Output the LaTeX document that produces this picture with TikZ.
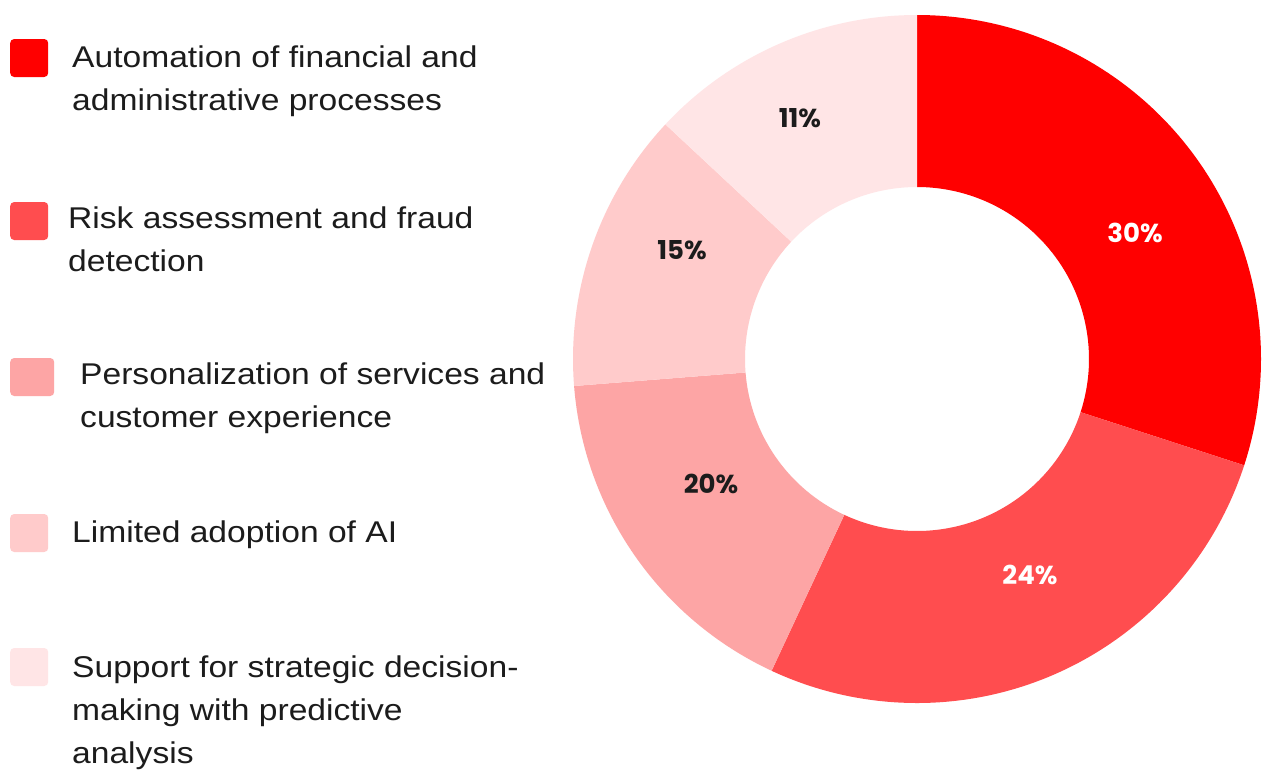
\documentclass[tikz,border=0pt]{standalone}
\usepackage{fontspec}
\setmainfont{Liberation Sans}[FakeStretch=1.12]
\newfontfamily\pctfont{Poppins}
\definecolor{c1}{HTML}{FF0000}
\definecolor{c2}{HTML}{FF4D4F}
\definecolor{c3}{HTML}{FDA5A5}
\definecolor{c4}{HTML}{FFCBCB}
\definecolor{c5}{HTML}{FFE5E6}
\definecolor{txt}{HTML}{1C1C1C}
\begin{document}
\begin{tikzpicture}[x=1pt,y=-1pt,
  sq/.style={rounded corners=4pt, minimum width=38pt, minimum height=38pt, inner sep=0pt, anchor=west},
  lbl/.style={anchor=base west, align=left, inner sep=0pt, font=\fontsize{30}{43}\selectfont, text=txt},
  pct/.style={font=\pctfont\bfseries\fontsize{26}{26}\selectfont, inner sep=0pt}]
\useasboundingbox (0,0) rectangle (1264,769);
\fill[white] (0,0) rectangle (1264,769);
% donut
\begin{scope}[shift={(917,359)}]
\fill[c1] (-90:344) arc[start angle=-90,end angle=18,radius=344] -- (18:172) arc[start angle=18,end angle=-90,radius=172] -- cycle;
\fill[c2] (18:344) arc[start angle=18,end angle=115,radius=344] -- (115:172) arc[start angle=115,end angle=18,radius=172] -- cycle;
\fill[c3] (115:344) arc[start angle=115,end angle=175.5,radius=344] -- (175.5:172) arc[start angle=175.5,end angle=115,radius=172] -- cycle;
\fill[c4] (175.5:344) arc[start angle=175.5,end angle=223,radius=344] -- (223:172) arc[start angle=223,end angle=175.5,radius=172] -- cycle;
\fill[c5] (223:344) arc[start angle=223,end angle=270,radius=344] -- (270:172) arc[start angle=270,end angle=223,radius=172] -- cycle;
\end{scope}
\node[pct, text=white] (p30) at (1135,233) {30\%};
\node[pct, text=white] (p24) at (1030,575) {24\%};
\node[pct, text=txt] (p20) at (711,484) {20\%};
\node[pct, text=txt] (p15) at (682,250) {15\%};
\node[pct, text=txt] (p11) at (800,118) {11\%};
% legend
\node[sq, fill=c1] (s1) at (10,58) {};
\node[lbl] (t1) at (72,110) {Automation of financial and\\administrative processes};
\node[sq, fill=c2] (s2) at (10,221) {};
\node[lbl] (t2) at (68,271) {Risk assessment and fraud\\detection};
\node[sq, fill=c3, minimum width=44pt] (s3) at (10,377) {};
\node[lbl] (t3) at (80,427) {Personalization of services and\\customer experience};
\node[sq, fill=c4] (s4) at (10,533) {};
\node[lbl] (t4) at (72,542) {Limited adoption of AI};
\node[sq, fill=c5] (s5) at (10,667) {};
\node[lbl] (t5) at (72,763) {Support for strategic decision-\\making with predictive\\analysis};
\end{tikzpicture}
\end{document}
